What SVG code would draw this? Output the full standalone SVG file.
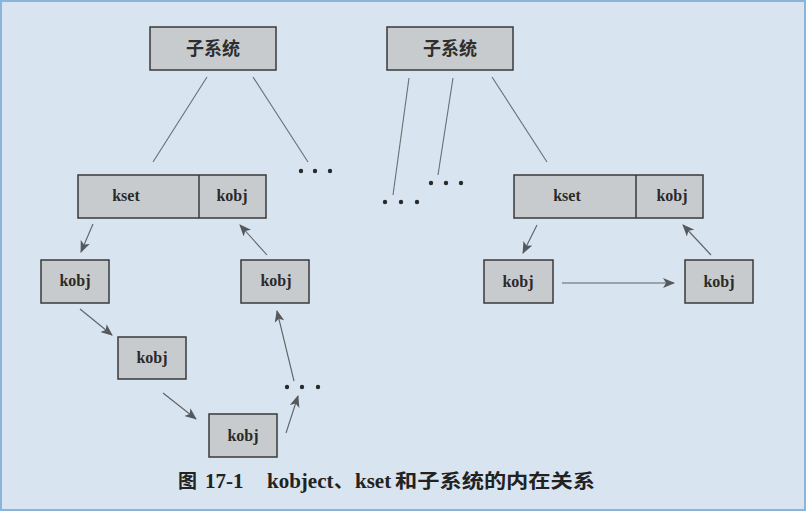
<svg xmlns="http://www.w3.org/2000/svg" width="806" height="511" viewBox="0 0 806 511">
<defs>
<style>
.box{fill:#c8cbcd;stroke:#3a3a3a;stroke-width:1.5}
.div{stroke:#3a3a3a;stroke-width:1.5}
.lbl{font-family:"Liberation Serif","DejaVu Serif",serif;font-weight:bold;font-size:16px;fill:#2a2a2a;text-anchor:middle}
.cjk{font-family:"Noto Sans CJK SC","Noto Sans",sans-serif;font-weight:bold;font-size:18px;fill:#2e2e2e;text-anchor:middle}
.ln{stroke:#6a6e72;stroke-width:1.1;fill:none}
.arr{stroke:#5e6266;stroke-width:1.1;fill:none;marker-end:url(#ah)}
.dot{fill:#2a2a2a}
.cap{font-family:"Liberation Serif","DejaVu Serif",serif;font-weight:bold;font-size:21px;fill:#222}
.capc{font-family:"Noto Sans CJK SC","Noto Sans",sans-serif;font-weight:bold;font-size:19px;fill:#222}
</style>
<marker id="ah" viewBox="0 0 12 10" refX="11" refY="5" markerWidth="12" markerHeight="10" markerUnits="userSpaceOnUse" orient="auto">
<path d="M0,0 L12,5 L0,10 L3,5 z" fill="#55595d"/>
</marker>
</defs>
<rect x="0" y="0" width="806" height="511" fill="#d8e4ef"/>
<rect x="1" y="1" width="804" height="509" fill="none" stroke="#8ab4d8" stroke-width="2"/>

<g id="connectors">
<line class="ln" x1="207" y1="77" x2="153" y2="162"/>
<line class="ln" x1="253" y1="77" x2="308" y2="162"/>
<line class="ln" x1="409" y1="78" x2="393" y2="195"/>
<line class="ln" x1="453" y1="78" x2="438" y2="175"/>
<line class="ln" x1="492" y1="77" x2="547" y2="162"/>
<line class="arr" x1="93" y1="224" x2="81" y2="252"/>
<line class="arr" x1="267" y1="255" x2="240" y2="225"/>
<line class="arr" x1="80" y1="309" x2="112" y2="335"/>
<line class="arr" x1="163" y1="393" x2="196" y2="419"/>
<line class="arr" x1="286" y1="433" x2="298" y2="396"/>
<line class="arr" x1="294" y1="381" x2="277" y2="311"/>
<line class="arr" x1="537" y1="225" x2="523" y2="253"/>
<line class="arr" x1="711" y1="255" x2="683" y2="225"/>
<line class="arr" x1="562" y1="283" x2="674" y2="283"/>
</g>

<g id="ellipsis">
<circle class="dot" cx="301" cy="171" r="2.2"/><circle class="dot" cx="315" cy="171" r="2.2"/><circle class="dot" cx="330" cy="171" r="2.2"/>
<circle class="dot" cx="385" cy="202" r="2.2"/><circle class="dot" cx="401" cy="202" r="2.2"/><circle class="dot" cx="417" cy="202" r="2.2"/>
<circle class="dot" cx="431" cy="183" r="2.2"/><circle class="dot" cx="446" cy="183" r="2.2"/><circle class="dot" cx="461" cy="183" r="2.2"/>
<circle class="dot" cx="287" cy="387" r="2.2"/><circle class="dot" cx="302" cy="387" r="2.2"/><circle class="dot" cx="318" cy="387" r="2.2"/>
</g>

<g id="subsys1"><rect class="box" x="150" y="27" width="126" height="43"/><text class="cjk" x="213" y="55">子系统</text></g>
<g id="subsys2"><rect class="box" x="387" y="27" width="126" height="43"/><text class="cjk" x="450" y="55">子系统</text></g>

<g id="kset1"><rect class="box" x="78" y="175" width="188" height="43"/><line class="div" x1="199" y1="175" x2="199" y2="218"/>
<text class="lbl" x="126" y="201">kset</text><text class="lbl" x="232" y="201">kobj</text></g>
<g id="kset2"><rect class="box" x="514" y="175" width="189" height="43"/><line class="div" x1="636" y1="175" x2="636" y2="218"/>
<text class="lbl" x="567" y="201">kset</text><text class="lbl" x="672" y="201">kobj</text></g>

<g id="kobj1"><rect class="box" x="41" y="260" width="68" height="43"/><text class="lbl" x="75" y="286">kobj</text></g>
<g id="kobj2"><rect class="box" x="241" y="260" width="68" height="43"/><text class="lbl" x="276" y="286">kobj</text></g>
<g id="kobj3"><rect class="box" x="118" y="337" width="68" height="42"/><text class="lbl" x="152" y="363">kobj</text></g>
<g id="kobj4"><rect class="box" x="209" y="414" width="68" height="43"/><text class="lbl" x="243" y="441">kobj</text></g>
<g id="kobj5"><rect class="box" x="484" y="260" width="69" height="43"/><text class="lbl" x="518" y="287">kobj</text></g>
<g id="kobj6"><rect class="box" x="685" y="260" width="68" height="43"/><text class="lbl" x="719" y="287">kobj</text></g>

<g id="caption">
<text class="capc" x="178" y="488" font-size="18">图</text>
<text class="cap" x="205" y="488">17-1</text>
<text class="cap" x="267" y="488">kobject</text>
<text class="capc" x="334" y="488">、</text>
<text class="cap" x="355" y="488">kset</text>
<text class="capc" x="395" y="488" textLength="200" lengthAdjust="spacingAndGlyphs">和子系统的内在关系</text>
</g>
</svg>
